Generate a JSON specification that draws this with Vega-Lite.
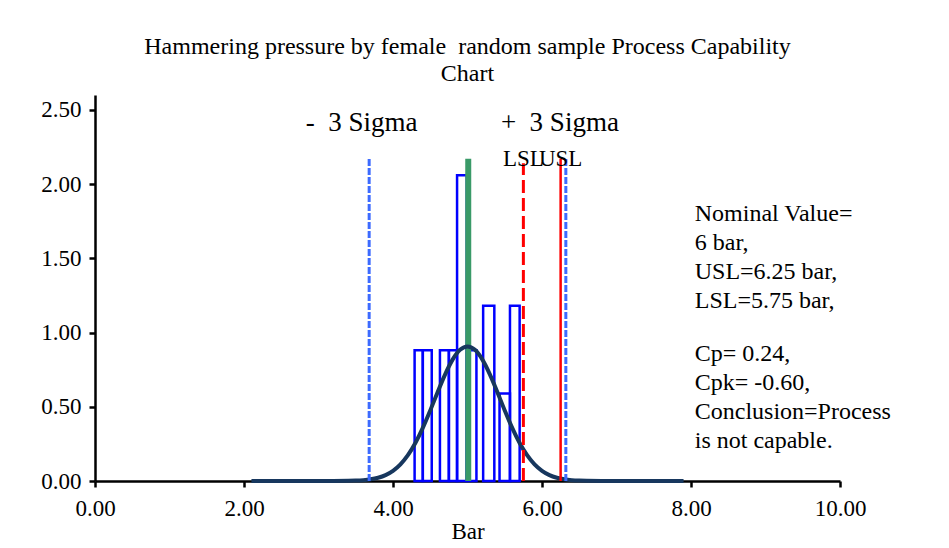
{
  "$schema": "https://vega.github.io/schema/vega-lite/v6.json",
  "width": 745,
  "height": 386,
  "autosize": {"type": "none"},
  "padding": {"left": 95, "top": 95, "right": 109, "bottom": 67},
  "background": "white",
  "title": {
    "text": ["Hammering pressure by female\u00a0 random sample Process Capability", "Chart"],
    "font": "Liberation Serif",
    "fontSize": 24,
    "fontWeight": "normal",
    "color": "black",
    "lineHeight": 27,
    "anchor": "middle",
    "offset": 9
  },
  "config": {
    "view": {"stroke": null},
    "axis": {
      "grid": false,
      "domainColor": "black",
      "domainWidth": 2.5,
      "tickColor": "black",
      "tickWidth": 2.5,
      "tickSize": 6,
      "labelFont": "Liberation Serif",
      "labelFontSize": 23,
      "labelColor": "black",
      "labelFlush": false,
      "titleFont": "Liberation Serif",
      "titleFontSize": 23,
      "titleFontWeight": "normal",
      "titleColor": "black"
    }
  },
  "datasets": {
    "bars": [
      {"start": 4.29, "end": 4.40, "density": 0.88},
      {"start": 4.40, "end": 4.52, "density": 0.88},
      {"start": 4.63, "end": 4.75, "density": 0.88},
      {"start": 4.75, "end": 4.86, "density": 0.88},
      {"start": 4.86, "end": 4.99, "density": 2.06},
      {"start": 4.99, "end": 5.12, "density": 0.88},
      {"start": 5.21, "end": 5.36, "density": 1.18},
      {"start": 5.43, "end": 5.57, "density": 0.59},
      {"start": 5.57, "end": 5.70, "density": 1.18}
    ],
    "curve": [
      {"x": 2.1, "y": 0},
      {"x": 3.0, "y": 0},
      {"x": 3.2, "y": 0.0002},
      {"x": 3.4, "y": 0.0012},
      {"x": 3.5, "y": 0.0027},
      {"x": 3.6, "y": 0.0057},
      {"x": 3.7, "y": 0.0115},
      {"x": 3.8, "y": 0.0220},
      {"x": 3.9, "y": 0.0398},
      {"x": 4.0, "y": 0.0685},
      {"x": 4.1, "y": 0.1119},
      {"x": 4.2, "y": 0.1736},
      {"x": 4.3, "y": 0.2558},
      {"x": 4.4, "y": 0.3578},
      {"x": 4.5, "y": 0.4754},
      {"x": 4.6, "y": 0.5998},
      {"x": 4.7, "y": 0.7187},
      {"x": 4.8, "y": 0.8177},
      {"x": 4.9, "y": 0.8836},
      {"x": 5.0, "y": 0.9067},
      {"x": 5.1, "y": 0.8836},
      {"x": 5.2, "y": 0.8177},
      {"x": 5.3, "y": 0.7187},
      {"x": 5.4, "y": 0.5998},
      {"x": 5.5, "y": 0.4754},
      {"x": 5.6, "y": 0.3578},
      {"x": 5.7, "y": 0.2558},
      {"x": 5.8, "y": 0.1736},
      {"x": 5.9, "y": 0.1119},
      {"x": 6.0, "y": 0.0685},
      {"x": 6.1, "y": 0.0398},
      {"x": 6.2, "y": 0.0220},
      {"x": 6.3, "y": 0.0115},
      {"x": 6.4, "y": 0.0057},
      {"x": 6.5, "y": 0.0027},
      {"x": 6.6, "y": 0.0012},
      {"x": 6.8, "y": 0.0002},
      {"x": 7.0, "y": 0},
      {"x": 7.9, "y": 0}
    ],
    "mean": [{"x": 5.01, "y0": 0, "y1": 2.17}],
    "sigma": [
      {"x": 3.68, "y0": 0, "y1": 2.17},
      {"x": 6.32, "y0": 0, "y1": 2.17}
    ],
    "lsl": [{"x": 5.75, "y0": 0, "y1": 2.14}],
    "usl": [{"x": 6.25, "y0": 0, "y1": 2.17}],
    "labels": [
      {"label": "-\u00a0 3 Sigma", "x": 3.58, "y": 2.41, "size": "big"},
      {"label": "+\u00a0 3 Sigma", "x": 6.24, "y": 2.41, "size": "big"},
      {"label": "LSL", "x": 5.75, "y": 2.17, "size": "small"},
      {"label": "USL", "x": 6.25, "y": 2.17, "size": "small"}
    ],
    "note": [
      {"x": 8.05, "y": 1.878, "lines": ["Nominal Value=", "6 bar,", "USL=6.25 bar,", "LSL=5.75 bar,"]},
      {"x": 8.05, "y": 0.933, "lines": ["Cp= 0.24,", "Cpk= -0.60,", "Conclusion=Process", "is not capable."]}
    ]
  },
  "layer": [
    {
      "data": {"name": "bars"},
      "mark": {"type": "bar", "fill": "white", "fillOpacity": 0, "stroke": "#0000FF", "strokeWidth": 2.5},
      "encoding": {
        "x": {"field": "start", "type": "quantitative", "scale": {"domain": [0, 10]},
          "axis": {"values": [0, 2, 4, 6, 8, 10], "format": ".2f", "title": "Bar", "labelPadding": 10, "titlePadding": 0}},
        "x2": {"field": "end"},
        "y": {"field": "density", "type": "quantitative", "scale": {"domain": [0, 2.5]},
          "axis": {"values": [0, 0.5, 1, 1.5, 2, 2.5], "format": ".2f", "title": null, "labelPadding": 8}},
        "y2": {"datum": 0}
      }
    },
    {
      "data": {"name": "mean"},
      "mark": {"type": "rule", "color": "#3A9A68", "strokeWidth": 6},
      "encoding": {
        "x": {"field": "x", "type": "quantitative"},
        "y": {"field": "y0", "type": "quantitative"},
        "y2": {"field": "y1"}
      }
    },
    {
      "data": {"name": "curve"},
      "mark": {"type": "line", "color": "#17375E", "strokeWidth": 4, "interpolate": "monotone"},
      "encoding": {
        "x": {"field": "x", "type": "quantitative"},
        "y": {"field": "y", "type": "quantitative"}
      }
    },
    {
      "data": {"name": "sigma"},
      "mark": {"type": "rule", "color": "#3D6BFF", "strokeWidth": 3, "strokeDash": [7, 2]},
      "encoding": {
        "x": {"field": "x", "type": "quantitative"},
        "y": {"field": "y0", "type": "quantitative"},
        "y2": {"field": "y1"}
      }
    },
    {
      "data": {"name": "lsl"},
      "mark": {"type": "rule", "color": "#FF0000", "strokeWidth": 3, "strokeDash": [13, 5]},
      "encoding": {
        "x": {"field": "x", "type": "quantitative"},
        "y": {"field": "y0", "type": "quantitative"},
        "y2": {"field": "y1"}
      }
    },
    {
      "data": {"name": "usl"},
      "mark": {"type": "rule", "color": "#FF0000", "strokeWidth": 2.5},
      "encoding": {
        "x": {"field": "x", "type": "quantitative"},
        "y": {"field": "y0", "type": "quantitative"},
        "y2": {"field": "y1"}
      }
    },
    {
      "data": {"name": "labels"},
      "transform": [{"filter": "datum.size === 'big'"}],
      "mark": {"type": "text", "font": "Liberation Serif", "fontSize": 27, "color": "black", "align": "center", "baseline": "middle"},
      "encoding": {
        "x": {"field": "x", "type": "quantitative"},
        "y": {"field": "y", "type": "quantitative"},
        "text": {"field": "label", "type": "nominal"}
      }
    },
    {
      "data": {"name": "labels"},
      "transform": [{"filter": "datum.size === 'small'"}],
      "mark": {"type": "text", "font": "Liberation Serif", "fontSize": 23, "color": "black", "align": "center", "baseline": "middle"},
      "encoding": {
        "x": {"field": "x", "type": "quantitative"},
        "y": {"field": "y", "type": "quantitative"},
        "text": {"field": "label", "type": "nominal"}
      }
    },
    {
      "data": {"name": "note"},
      "mark": {"type": "text", "font": "Liberation Serif", "fontSize": 24, "color": "black", "align": "left", "baseline": "top", "lineHeight": 29},
      "encoding": {
        "x": {"field": "x", "type": "quantitative"},
        "y": {"field": "y", "type": "quantitative"},
        "text": {"field": "lines", "type": "nominal"}
      }
    }
  ]
}
